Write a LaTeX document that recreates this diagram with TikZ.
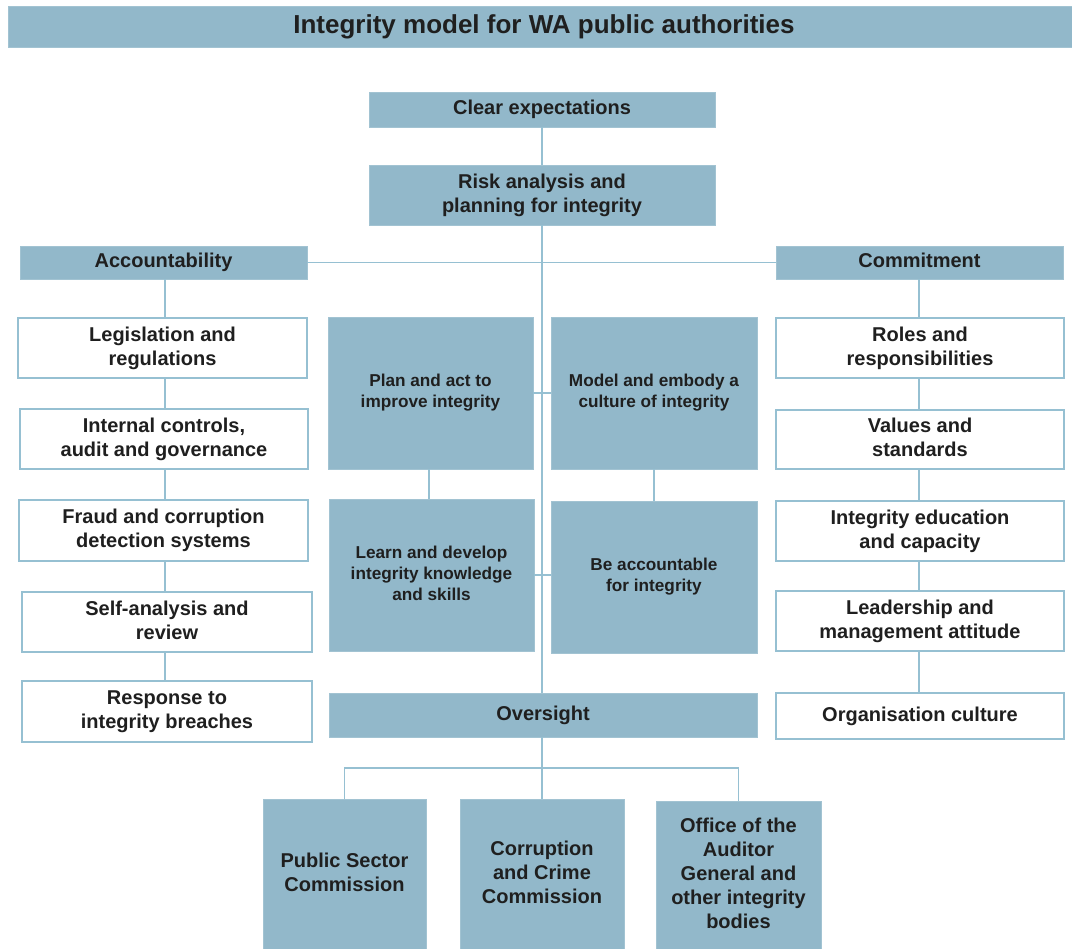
\documentclass[tikz,border=0pt]{standalone}
\usepackage{fontspec}
\setmainfont{Liberation Sans}
% strut that makes a text block centre on cap height to baseline
\newcommand\capstrut{\rule[-0.22em]{0pt}{0.936em}}
\begin{document}
\definecolor{boxblue}{RGB}{146,184,202}
\definecolor{lineblue}{RGB}{150,192,210}
\tikzset{
  every node/.style={inner sep=0pt, outer sep=0pt, align=center, text=black!88,
    execute at begin node=\capstrut, execute at end node=\capstrut},
  bluebox/.style={fill=boxblue, draw=boxblue!85!white, line width=0.8pt},
  whitebox/.style={fill=white, draw=lineblue, line width=1.8pt},
  bigtext/.style={font=\bfseries\fontsize{20}{24}\selectfont},
  midtext/.style={font=\bfseries\fontsize{17.2}{21}\selectfont},
  link/.style={draw=lineblue, line width=1.6pt},
  % box geometry: centre is the node position
  size/.style 2 args={minimum width=#1pt, minimum height=#2pt},
}
\begin{tikzpicture}[x=1pt,y=-1pt]
\useasboundingbox (0,0) rectangle (1072,949);

% title banner (runs off the right edge)
\node[bluebox, size={1072}{41}, font=\bfseries\fontsize{26}{30}\selectfont] (title) at (544,26.5) {Integrity model for WA public authorities};

% central spine
\node[bluebox, bigtext, size={346}{35}] (clear) at (542,109.5) {Clear expectations};
\node[bluebox, bigtext, size={346}{60}] (risk) at (542,195) {Risk analysis and\\planning for integrity};

% the two side headings
\node[bluebox, bigtext, size={287}{33}] (acc) at (163.5,262.5) {Accountability};
\node[bluebox, bigtext, size={287}{33}] (com) at (919.5,262.5) {Commitment};

% accountability column
\node[whitebox, bigtext, size={289}{60}] (leg) at (162.5,348) {Legislation and\\regulations};
\node[whitebox, bigtext, size={288}{60}] (int) at (164,439) {Internal controls,\\audit and governance};
\node[whitebox, bigtext, size={289}{61}] (fraud) at (163.5,530.5) {Fraud and corruption\\detection systems};
\node[whitebox, bigtext, size={290}{60}] (self) at (167,622) {Self-analysis and\\review};
\node[whitebox, bigtext, size={290}{61}] (resp) at (167,711.5) {Response to\\integrity breaches};

% commitment column
\node[whitebox, bigtext, size={288}{60}] (roles) at (920,348) {Roles and\\responsibilities};
\node[whitebox, bigtext, size={288}{59}] (values) at (920,439.5) {Values and\\standards};
\node[whitebox, bigtext, size={288}{60}] (edu) at (920,531) {Integrity education\\and capacity};
\node[whitebox, bigtext, size={288}{60}] (lead) at (920,621) {Leadership and\\management attitude};
\node[whitebox, bigtext, size={288}{46}] (org) at (920,716) {Organisation culture};

% the four central actions
\node[bluebox, midtext, size={205}{152}] (plan) at (430.5,393) {Plan and act to\\improve integrity};
\node[bluebox, midtext, size={206}{152}] (model) at (654,393) {Model and embody a\\culture of integrity};
\node[bluebox, midtext, size={205}{152}] (learn) at (431.5,575) {Learn and develop\\integrity knowledge\\and skills};
\node[bluebox, midtext, size={206}{152}] (beacc) at (654,577) {Be accountable\\for integrity};

% oversight and its bodies
\node[bluebox, bigtext, size={428}{44}] (over) at (543,715) {Oversight};
\node[bluebox, bigtext, size={163}{151}] (psc) at (344.5,874.5) {Public Sector\\Commission};
\node[bluebox, bigtext, size={164}{151}] (ccc) at (542,874.5) {Corruption\\and Crime\\Commission};
\node[bluebox, bigtext, size={165}{149}] (oag) at (738.5,875.5) {Office of the\\Auditor\\General and\\other integrity\\bodies};

% column guides
\coordinate (lx) at (165,0);
\coordinate (rx) at (919,0);
\coordinate (cx) at (542,0);
\coordinate (px) at (429,0);
\coordinate (fork) at (542,768);

% spine
\draw[link] (clear.south -| cx) -- (risk.north -| cx);
\draw[link] (risk.south -| cx) -- (over.north -| cx);
% headings bar
\draw[link] (acc.east) -- (com.west);
% left chain
\draw[link] (lx |- acc.south) -- (lx |- leg.north);
\draw[link] (lx |- leg.south) -- (lx |- int.north);
\draw[link] (lx |- int.south) -- (lx |- fraud.north);
\draw[link] (lx |- fraud.south) -- (lx |- self.north);
\draw[link] (lx |- self.south) -- (lx |- resp.north);
% right chain
\draw[link] (rx |- com.south) -- (rx |- roles.north);
\draw[link] (rx |- roles.south) -- (rx |- values.north);
\draw[link] (rx |- values.south) -- (rx |- edu.north);
\draw[link] (rx |- edu.south) -- (rx |- lead.north);
\draw[link] (rx |- lead.south) -- (rx |- org.north);
% central actions
\draw[link] (plan.east) -- (model.west |- plan.east);
\draw[link] (learn.east) -- (beacc.west |- learn.east);
\draw[link] (px |- plan.south) -- (px |- learn.north);
\draw[link] (model.south) -- (beacc.north);
% oversight fork
\draw[link] (over.south -| cx) -- (fork) -- (ccc.north -| cx);
\draw[link] (psc.north) -- (psc.north |- fork) -- (oag.north |- fork) -- (oag.north);
\end{tikzpicture}
\end{document}
